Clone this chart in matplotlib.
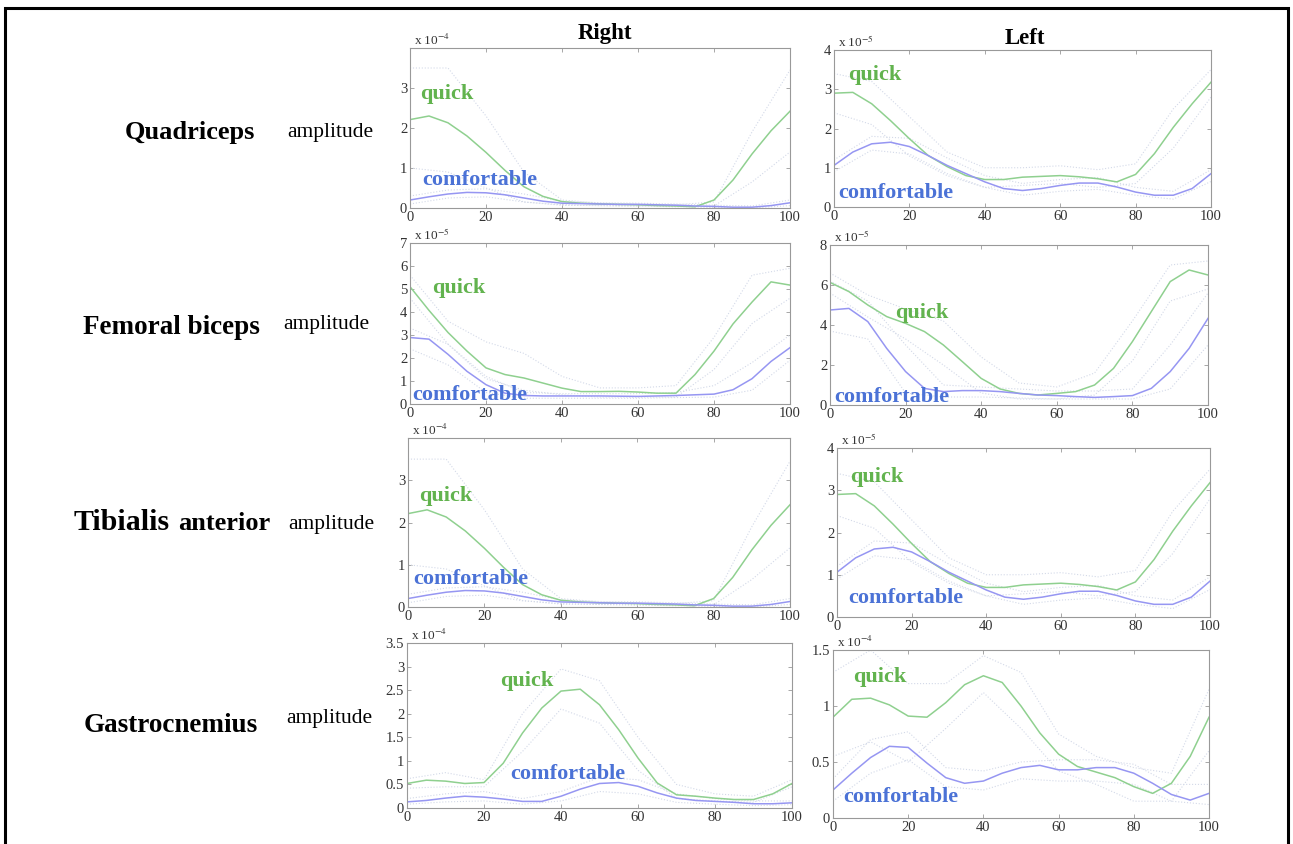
import matplotlib
matplotlib.use("Agg")
import matplotlib.pyplot as plt
from matplotlib.patches import Rectangle
from matplotlib.ticker import FormatStrFormatter

plt.rcParams['font.family'] = ['Liberation Serif', 'DejaVu Serif']
plt.rcParams['mathtext.fontset'] = 'stix'

W, H = 1293, 844

# gait cycle (%) sample points
x5 = [0, 5, 10, 15, 20, 25, 30, 35, 40, 45, 50, 55, 60, 65, 70, 75, 80, 85, 90, 95, 100]
x10 = [0, 10, 20, 30, 40, 50, 60, 70, 80, 90, 100]

muscles = ["Quadriceps", "Femoral biceps", "Tibialis anterior", "Gastrocnemius"]
sides = ["Right", "Left"]

# --- Quadriceps right (x 1e-4) ---
quad_r_quick = [2.21, 2.3, 2.13, 1.8, 1.39, 0.94, 0.53, 0.29, 0.16, 0.12, 0.1, 0.09, 0.08, 0.06, 0.05, 0.03, 0.2, 0.7, 1.35, 1.93, 2.42]
quad_r_comf = [0.2, 0.28, 0.35, 0.39, 0.38, 0.33, 0.25, 0.17, 0.12, 0.11, 0.1, 0.09, 0.09, 0.08, 0.07, 0.05, 0.04, 0.02, 0.02, 0.06, 0.13]
quad_r_quick_hi = [3.5, 3.5, 2.3, 0.9, 0.2, 0.12, 0.1, 0.08, 0.15, 1.9, 3.45]
quad_r_quick_lo = [1.0, 0.9, 0.5, 0.15, 0.08, 0.06, 0.05, 0.03, 0.05, 0.65, 1.4]
quad_r_comf_hi = [0.3, 0.45, 0.48, 0.35, 0.17, 0.13, 0.12, 0.1, 0.07, 0.05, 0.2]
quad_r_comf_lo = [0.1, 0.25, 0.28, 0.15, 0.07, 0.06, 0.05, 0.04, 0.01, 0.0, 0.06]

# --- Quadriceps left (x 1e-5) ---
quad_l_quick = [2.9, 2.92, 2.63, 2.2, 1.74, 1.31, 1.03, 0.8, 0.7, 0.7, 0.76, 0.78, 0.8, 0.77, 0.72, 0.64, 0.83, 1.36, 2.03, 2.63, 3.18]
quad_l_comf = [1.06, 1.4, 1.61, 1.65, 1.54, 1.31, 1.06, 0.85, 0.64, 0.47, 0.42, 0.47, 0.55, 0.61, 0.61, 0.51, 0.38, 0.3, 0.3, 0.47, 0.85]
quad_l_quick_hi = [3.4, 3.2, 2.3, 1.4, 1.0, 1.0, 1.05, 0.95, 1.1, 2.5, 3.5]
quad_l_quick_lo = [2.4, 2.1, 1.3, 0.8, 0.5, 0.55, 0.6, 0.5, 0.6, 1.5, 2.8]
quad_l_comf_hi = [1.2, 1.8, 1.75, 1.25, 0.8, 0.6, 0.7, 0.75, 0.5, 0.4, 0.95]
quad_l_comf_lo = [0.9, 1.45, 1.35, 0.85, 0.5, 0.3, 0.4, 0.45, 0.3, 0.2, 0.65]

# --- Femoral biceps right (x 1e-5) ---
fem_r_quick = [5.1, 4.07, 3.11, 2.3, 1.57, 1.28, 1.13, 0.91, 0.69, 0.54, 0.54, 0.55, 0.52, 0.47, 0.47, 1.28, 2.3, 3.48, 4.43, 5.31, 5.17]
fem_r_comf = [2.89, 2.82, 2.16, 1.42, 0.84, 0.47, 0.37, 0.35, 0.35, 0.35, 0.35, 0.34, 0.33, 0.35, 0.37, 0.4, 0.43, 0.62, 1.1, 1.85, 2.45]
fem_r_quick_hi = [5.6, 3.6, 2.7, 2.2, 1.2, 0.7, 0.7, 0.8, 2.9, 5.6, 5.9]
fem_r_quick_lo = [4.6, 2.6, 1.1, 0.6, 0.4, 0.3, 0.3, 0.3, 1.5, 3.5, 4.6]
fem_r_comf_hi = [3.3, 2.6, 1.2, 0.5, 0.45, 0.45, 0.45, 0.5, 0.8, 1.8, 3.0]
fem_r_comf_lo = [2.4, 1.7, 0.5, 0.25, 0.25, 0.25, 0.25, 0.28, 0.3, 0.6, 1.9]

# --- Femoral biceps left (x 1e-5) ---
fem_l_quick = [6.13, 5.67, 5.0, 4.42, 4.08, 3.67, 3.0, 2.17, 1.33, 0.8, 0.58, 0.5, 0.58, 0.67, 1.0, 1.83, 3.17, 4.67, 6.17, 6.75, 6.5]
fem_l_comf = [4.75, 4.83, 4.17, 2.83, 1.67, 0.83, 0.67, 0.72, 0.72, 0.67, 0.58, 0.5, 0.47, 0.42, 0.38, 0.42, 0.47, 0.83, 1.67, 2.83, 4.33]
fem_l_quick_hi = [6.6, 5.5, 4.8, 4.2, 2.4, 1.1, 0.9, 1.6, 4.2, 7.0, 7.2]
fem_l_quick_lo = [5.6, 4.4, 3.3, 2.0, 0.6, 0.3, 0.3, 0.5, 2.2, 5.2, 5.8]
fem_l_comf_hi = [6.2, 5.2, 3.0, 1.0, 0.9, 0.8, 0.7, 0.7, 0.8, 3.0, 5.6]
fem_l_comf_lo = [3.7, 3.3, 0.6, 0.4, 0.4, 0.35, 0.3, 0.3, 0.3, 0.8, 3.0]

# --- Gastrocnemius right (x 1e-4) ---
gas_r_quick = [0.52, 0.59, 0.57, 0.52, 0.54, 0.95, 1.59, 2.12, 2.48, 2.52, 2.19, 1.66, 1.06, 0.53, 0.28, 0.25, 0.21, 0.18, 0.18, 0.3, 0.52]
gas_r_comf = [0.13, 0.16, 0.21, 0.25, 0.23, 0.19, 0.14, 0.14, 0.25, 0.4, 0.52, 0.54, 0.46, 0.32, 0.21, 0.16, 0.14, 0.12, 0.09, 0.09, 0.11]
gas_r_quick_hi = [0.62, 0.75, 0.6, 2.0, 2.95, 2.7, 1.5, 0.5, 0.3, 0.25, 0.6]
gas_r_quick_lo = [0.42, 0.45, 0.45, 1.2, 2.1, 1.8, 0.8, 0.2, 0.15, 0.12, 0.45]
gas_r_comf_hi = [0.2, 0.3, 0.35, 0.2, 0.35, 0.65, 0.6, 0.3, 0.2, 0.15, 0.15]
gas_r_comf_lo = [0.08, 0.13, 0.15, 0.08, 0.15, 0.35, 0.3, 0.12, 0.08, 0.05, 0.07]

# --- Gastrocnemius left (x 1e-4) ---
gas_l_quick = [0.9, 1.06, 1.07, 1.01, 0.91, 0.9, 1.03, 1.19, 1.27, 1.21, 1.0, 0.76, 0.57, 0.46, 0.41, 0.36, 0.28, 0.22, 0.31, 0.55, 0.9]
gas_l_comf = [0.25, 0.4, 0.54, 0.64, 0.63, 0.49, 0.36, 0.31, 0.33, 0.4, 0.45, 0.47, 0.43, 0.43, 0.45, 0.45, 0.4, 0.31, 0.21, 0.16, 0.22]
gas_l_quick_hi = [1.3, 1.5, 1.2, 1.2, 1.45, 1.3, 0.75, 0.55, 0.45, 0.4, 1.15]
gas_l_quick_lo = [0.55, 0.68, 0.5, 0.8, 1.12, 0.8, 0.42, 0.3, 0.15, 0.15, 0.6]
gas_l_comf_hi = [0.35, 0.7, 0.77, 0.45, 0.42, 0.5, 0.52, 0.52, 0.48, 0.3, 0.3]
gas_l_comf_lo = [0.15, 0.4, 0.52, 0.28, 0.25, 0.35, 0.33, 0.33, 0.3, 0.15, 0.12]

GREEN_LINE = '#8fd08f'
BLUE_LINE = '#9696f2'
DOT = '#d3d9e8'
GREEN_TXT = '#62b34e'
BLUE_TXT = '#4b72d6'

# panel: (box px l,t,r,b), data, ylim, yticks, exponent, quick label pos, comfortable label pos
panels = [
    ((410, 48, 790, 208), (quad_r_quick, quad_r_comf, quad_r_quick_hi, quad_r_quick_lo, quad_r_comf_hi, quad_r_comf_lo),
     4.0, [0, 1, 2, 3], -4, (2.6, 2.86), (3.2, 0.69)),
    ((834, 50, 1211, 207), (quad_l_quick, quad_l_comf, quad_l_quick_hi, quad_l_quick_lo, quad_l_comf_hi, quad_l_comf_lo),
     4.0, [0, 1, 2, 3, 4], -5, (3.7, 3.36), (1.0, 0.36)),
    ((410, 243, 790, 404), (fem_r_quick, fem_r_comf, fem_r_quick_hi, fem_r_quick_lo, fem_r_comf_hi, fem_r_comf_lo),
     7.0, [0, 1, 2, 3, 4, 5, 6, 7], -5, (5.8, 5.04), (0.5, 0.39)),
    ((830, 245, 1208, 405), (fem_l_quick, fem_l_comf, fem_l_quick_hi, fem_l_quick_lo, fem_l_comf_hi, fem_l_comf_lo),
     8.0, [0, 2, 4, 6, 8], -5, (17.2, 4.6), (1.0, 0.4)),
    ((408, 438, 790, 607), (quad_r_quick, quad_r_comf, quad_r_quick_hi, quad_r_quick_lo, quad_r_comf_hi, quad_r_comf_lo),
     4.0, [0, 1, 2, 3], -4, (3.0, 2.63), (1.3, 0.66)),
    ((837, 448, 1210, 617), (quad_l_quick, quad_l_comf, quad_l_quick_hi, quad_l_quick_lo, quad_l_comf_hi, quad_l_comf_lo),
     4.0, [0, 1, 2, 3, 4], -5, (3.5, 3.31), (3.0, 0.45)),
    ((407, 643, 792, 808), (gas_r_quick, gas_r_comf, gas_r_quick_hi, gas_r_quick_lo, gas_r_comf_hi, gas_r_comf_lo),
     3.5, [0, 0.5, 1, 1.5, 2, 2.5, 3, 3.5], -4, (24.2, 2.69), (26.8, 0.72)),
    ((833, 650, 1209, 818), (gas_l_quick, gas_l_comf, gas_l_quick_hi, gas_l_quick_lo, gas_l_comf_hi, gas_l_comf_lo),
     1.5, [0, 0.5, 1, 1.5], -4, (5.3, 1.26), (2.7, 0.19)),
]

fig = plt.figure(figsize=(W / 100, H / 100), dpi=100)

for (l, t, r, b), data, ymax, yt, expo, qpos, cpos in panels:
    ax = fig.add_axes([l / W, 1 - b / H, (r - l) / W, (b - t) / H])
    quick, comf, q_hi, q_lo, c_hi, c_lo = data
    for s in (q_hi, q_lo, c_hi, c_lo):
        ax.plot(x10, s, color=DOT, lw=0.8, ls=':')
    ax.plot(x5, quick, color=GREEN_LINE, lw=1.1)
    ax.plot(x5, comf, color=BLUE_LINE, lw=1.1)
    ax.set_xlim(0, 100)
    ax.set_ylim(0, ymax)
    ax.set_xticks([0, 20, 40, 60, 80, 100])
    ax.set_yticks(yt)
    ax.yaxis.set_major_formatter(FormatStrFormatter('%g'))
    ax.tick_params(direction='in', top=True, right=True, length=3, width=0.6,
                   color='#999999', labelcolor='#333333', labelsize=10.5, pad=2)
    for sp in ax.spines.values():
        sp.set_color('#999999')
        sp.set_linewidth(0.8)
    ax.text(0.01, 1.0, r'x 10$^{%d}$' % expo, transform=ax.transAxes,
            fontsize=9.5, color='#333333', va='bottom', ha='left')
    ax.text(qpos[0], qpos[1], 'quick', color=GREEN_TXT, fontsize=16,
            fontweight='bold', va='center', ha='left')
    ax.text(cpos[0], cpos[1], 'comfortable', color=BLUE_TXT, fontsize=16,
            fontweight='bold', va='center', ha='left')

# column titles
fig.text(605 / W, 1 - 33 / H, sides[0], fontsize=16.5, fontweight='bold', ha='center', va='center')
fig.text(1025 / W, 1 - 38 / H, sides[1], fontsize=16.5, fontweight='bold', ha='center', va='center')

# row labels
fig.text(190 / W, 1 - 133 / H, muscles[0], fontsize=19, fontweight='bold', ha='center', va='center')
fig.text(171 / W, 1 - 327 / H, muscles[1], fontsize=19.5, fontweight='bold', ha='center', va='center')
fig.text(74 / W, 1 - 530 / H, muscles[2].split()[0], fontsize=21.5, fontweight='bold', ha='left', va='baseline')
fig.text(178 / W, 1 - 530 / H, muscles[2].split()[1], fontsize=19, fontweight='bold', ha='left', va='baseline')
fig.text(171 / W, 1 - 726 / H, muscles[3], fontsize=19.5, fontweight='bold', ha='center', va='center')

for xa, ya in [(287, 133), (283, 325), (288, 524), (286, 719)]:
    fig.text(xa / W, 1 - ya / H, 'amplitude', fontsize=15.5, ha='left', va='center')

# outer frame
fig.patches.append(Rectangle((5 / W, -0.05), (1288 - 5) / W, 1 - 8 / H + 0.05,
                             transform=fig.transFigure, fill=False, edgecolor='black', lw=2.2))

fig.savefig('out.png', dpi=100)
